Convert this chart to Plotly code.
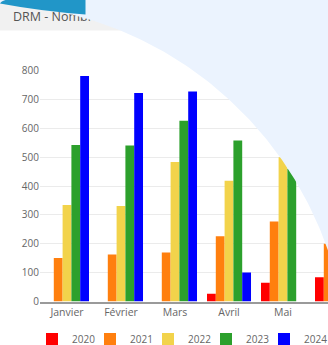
import numpy as np
import plotly.graph_objects as go

months = ["Janvier", "Février", "Mars", "Avril", "Mai", "Juin"]
years = ["2020", "2021", "2022", "2023", "2024"]
v2020 = [None, None, None, 27, 65, 84]
v2021 = [151, 163, 170, 226, 277, 200]
v2022 = [334, 331, 483, 418, 500, 380]
v2023 = [542, 540, 626, 558, 460, 450]
v2024 = [781, 722, 727, 100, None, None]
series = [v2020, v2021, v2022, v2023, v2024]
colors = ["#FF0000", "#FF7F0E", "#F2D34B", "#2CA02C", "#0000FF"]
y_ticks = [0, 100, 200, 300, 400, 500, 600, 700, 800]
title_text = "DRM - Nombre de demandes"

W, H = 328, 345
X0, Y0, Y800 = 40.0, 301.5, 70.5   # plot-area pixel geometry
CAT = 54.0                           # pixels per category
LEG_X, LEG_STEP = 32.0, 58.0


def fx(px):
    return px / W


def fy(py):
    return (H - py) / H


fig = go.Figure()
leg_ids = ["legend" if i == 0 else f"legend{i + 1}" for i in range(len(years))]
for lid, name, vals, col in zip(leg_ids, years, series, colors):
    fig.add_trace(go.Bar(x=months, y=vals, name=name, marker=dict(color=col, line=dict(width=0)),
                         legend=lid, hoverinfo="skip"))

# title (pixel-coordinate overlay subplot x2/y2)
fig.add_trace(go.Scatter(x=[13], y=[17.5], mode="text", text=[title_text], textposition="middle right",
                         marker=dict(size=0),
                         textfont=dict(family="Open Sans", size=12.5, color="#555555"),
                         xaxis="x2", yaxis="y2", showlegend=False, cliponaxis=False, hoverinfo="skip"))

# light blue decorative region outside the big white circle (drawn above the title text)
cx, cy, R = -19.0, 370.0, 367.0
th = np.linspace(np.arcsin((-45 - cx) / R), np.arcsin((340 - cx) / R), 120)
ox = [-45.0] + list(cx + R * np.sin(th)) + [340.0, -45.0]
oy = [-5.0] + list(cy - R * np.cos(th)) + [-5.0, -5.0]
fig.add_trace(go.Scatter(x=ox, y=oy, mode="lines", fill="toself", fillcolor="#EBF3FE",
                         line=dict(width=0, color="#EBF3FE"), xaxis="x2", yaxis="y2",
                         showlegend=False, hoverinfo="skip"))

shapes = []
shapes.append(dict(type="rect", xref="paper", yref="paper", x0=fx(-5), x1=fx(340), y0=fy(-5), y1=fy(30.5),
                   fillcolor="#F1F1F1", line=dict(width=0), layer="below"))
dpath = (f"M {fx(0):.5f},{fy(3.5):.5f} Q {fx(2):.5f},{fy(-1):.5f} {fx(16):.5f},{fy(-1):.5f} "
         f"L {fx(85.5):.5f},{fy(-1):.5f} L {fx(85.5):.5f},{fy(14.5):.5f} "
         f"Q {fx(40):.5f},{fy(11):.5f} {fx(0):.5f},{fy(3.5):.5f} Z")
shapes.append(dict(type="path", xref="paper", yref="paper", path=dpath, fillcolor="#2196C8",
                   line=dict(width=0), layer="above"))

legends = {}
for i, lid in enumerate(leg_ids):
    legends[lid] = dict(orientation="h", xanchor="left", yanchor="top", y=fy(324.5),
                        x=fx(LEG_X + i * LEG_STEP),
                        font=dict(size=10, color="#666666"), bgcolor="rgba(0,0,0,0)", itemclick=False)

fig.update_layout(
    width=W, height=H,
    margin=dict(l=0, r=0, t=0, b=0, pad=0, autoexpand=False),
    paper_bgcolor="white", plot_bgcolor="rgba(0,0,0,0)",
    barmode="group", bargap=0.185, bargroupgap=0,
    font=dict(family="Open Sans", size=11, color="#666666"),
    showlegend=True,
    xaxis=dict(domain=[fx(X0), 1], range=[-0.5, -0.5 + (W - X0) / CAT], showgrid=False, ticks="",
               showline=True, linecolor="#9a9a9a", linewidth=2, tickfont=dict(size=10.5, color="#666666"),
               fixedrange=True, automargin=False),
    yaxis=dict(domain=[fy(Y0), fy(Y800)], range=[0, 800], tickvals=y_ticks, showgrid=True,
               gridcolor="#ebebeb", gridwidth=1, zeroline=False, ticks="", showline=False,
               tickfont=dict(size=10, color="#666666"), fixedrange=True, automargin=False),
    xaxis2=dict(domain=[0, 1], range=[0, W], visible=False, anchor="y2", fixedrange=True),
    yaxis2=dict(domain=[0, 1], range=[H, 0], visible=False, anchor="x2", fixedrange=True),
    shapes=shapes,
    **legends,
)

fig.write_html("out.html", config={"displayModeBar": False})
